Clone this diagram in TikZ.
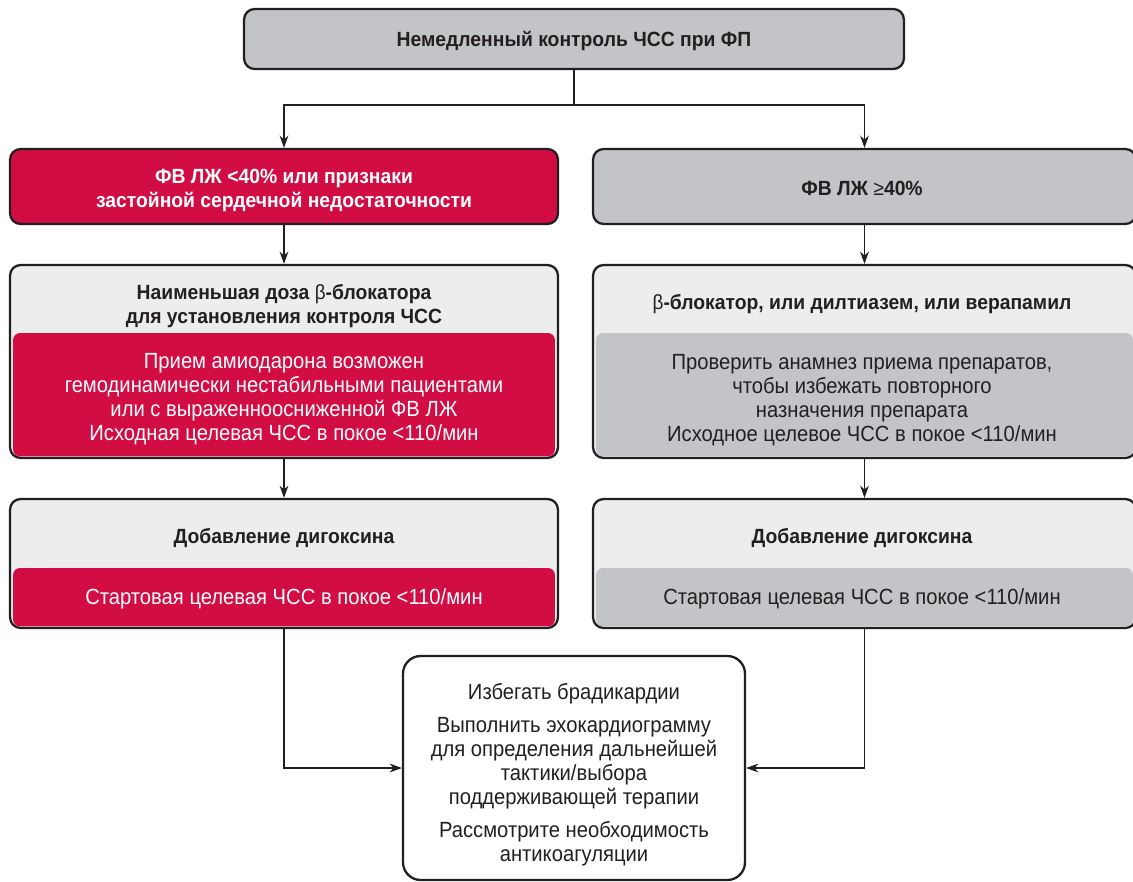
\documentclass[tikz,border=0pt]{standalone}
\usepackage{fontspec}
\setmainfont{Liberation Sans}[FakeStretch=0.92, BoldFeatures={FakeStretch=0.94}]
\usetikzlibrary{arrows.meta}

\definecolor{afred}{HTML}{D20D44}
\definecolor{afgray}{HTML}{C3C4C8}
\definecolor{aflight}{HTML}{EDEDED}
\definecolor{afline}{HTML}{231F20}
\newcommand{\afsize}{\fontsize{12.5}{13.7}\selectfont}
\newcommand{\afbold}{\fontsize{11.7}{13.7}\selectfont\bfseries}

\tikzset{
    box/.style={draw=afline, line width=1.3pt, rounded corners=6pt, inner sep=0pt},
    inbox/.style={rounded corners=4pt, inner sep=0pt, align=center, font=\afsize},
    hd/.style={font=\afbold, text=afline, align=center, inner sep=0pt},
    link/.style={draw=afline, line width=0.6pt},
    arr/.style={link, -{Stealth[length=7pt, width=5pt]}}
}

\begin{document}
\begin{tikzpicture}[x=0.02cm, y=-0.02cm]
        \useasboundingbox (0,0) rectangle (1133,882);

        % draw the top box
        \node[box, fill=afgray, minimum width=13.2cm, minimum height=1.2cm] (start) at (574,39) {};
        \node[hd] (starttxt) at (574,41) {Немедленный контроль ЧСС при ФП};

        % draw the two condition boxes
        \node[box, fill=afred, minimum width=10.96cm, minimum height=1.5cm] (lcond) at (284,186.5) {};
        \node[hd, text=white] (lcondtxt) at (284,190) {ФВ ЛЖ <40\% или признаки\\застойной сердечной недостаточности};
        \node[box, fill=afgray, minimum width=10.86cm, minimum height=1.5cm] (rcond) at (864.5,186.5) {};
        \node[hd] (rcondtxt) at (862,188) {ФВ ЛЖ \textmd{≥}40\%};

        % draw the left beta-blocker box
        \node[box, fill=aflight, minimum width=10.96cm, minimum height=3.86cm] (lbeta) at (284,361.5) {};
        \node[hd] (lbetahd) at (284,306) {Наименьшая доза \textmd{β}-блокатора\\для установления контроля ЧСС};
        \node[inbox, fill=afred, minimum width=10.84cm, minimum height=2.47cm] (lbetain) at (284,394.75) {};
        \node[inbox, text=white] (lbetatxt) at (284,399)
            {Прием амиодарона возможен\\гемодинамически нестабильными пациентами\\или с выраженноосниженной ФВ ЛЖ\\Исходная целевая ЧСС в покое <110/мин};

        % draw the right beta-blocker box
        \node[box, fill=aflight, minimum width=10.86cm, minimum height=3.86cm] (rbeta) at (864.5,361.5) {};
        \node[hd] (rbetahd) at (862,304) {\textmd{β}-блокатор, или дилтиазем, или верапамил};
        \node[inbox, fill=afgray, minimum width=10.74cm, minimum height=2.47cm] (rbetain) at (864.5,394.75) {};
        \node[inbox, text=afline] (rbetatxt) at (862,400)
            {Проверить анамнез приема препаратов,\\чтобы избежать повторного\\назначения препарата\\Исходное целевое ЧСС в покое <110/мин};

        % draw the digoxin boxes
        \node[box, fill=aflight, minimum width=10.96cm, minimum height=2.58cm] (ldig) at (284,563.5) {};
        \node[hd] (ldighd) at (284,538) {Добавление дигоксина};
        \node[inbox, fill=afred, text=white, minimum width=10.84cm, minimum height=1.17cm] (ldigin) at (284,597.25) {};
        \node[inbox, text=white] (ldigtxt) at (284,599) {Стартовая целевая ЧСС в покое <110/мин};
        \node[box, fill=aflight, minimum width=10.86cm, minimum height=2.58cm] (rdig) at (864.5,563.5) {};
        \node[hd] (rdighd) at (862,538) {Добавление дигоксина};
        \node[inbox, fill=afgray, minimum width=10.74cm, minimum height=1.17cm] (rdigin) at (864.5,597.25) {};
        \node[inbox, text=afline] (rdigtxt) at (862,599) {Стартовая целевая ЧСС в покое <110/мин};

        % draw the final box
        \node[box, fill=white, rounded corners=10pt, minimum width=6.84cm, minimum height=4.48cm] (final) at (574,768) {};
        \node[inbox, text=afline] (finaltxt) at (574,775)
            {Избегать брадикардии\\[5pt]Выполнить эхокардиограмму\\для определения дальнейшей\\тактики/выбора\\поддерживающей терапии\\[5pt]Рассмотрите необходимость\\антикоагуляции};

        % draw the connectors
        \coordinate (split) at (574,105);
        \draw[link] (start.south) -- (split);
        \draw[arr] (split) -| (lcond.north);
        \draw[arr] (split) -| (rcond.north);
        \draw[arr] (lcond.south) -- (lbeta.north);
        \draw[arr] (rcond.south) -- (rbeta.north);
        \draw[arr] (lbeta.south) -- (ldig.north);
        \draw[arr] (rbeta.south) -- (rdig.north);
        \draw[arr] (ldig.south) |- (final.west);
        \draw[arr] (rdig.south) |- (final.east);
    \end{tikzpicture}
\end{document}
